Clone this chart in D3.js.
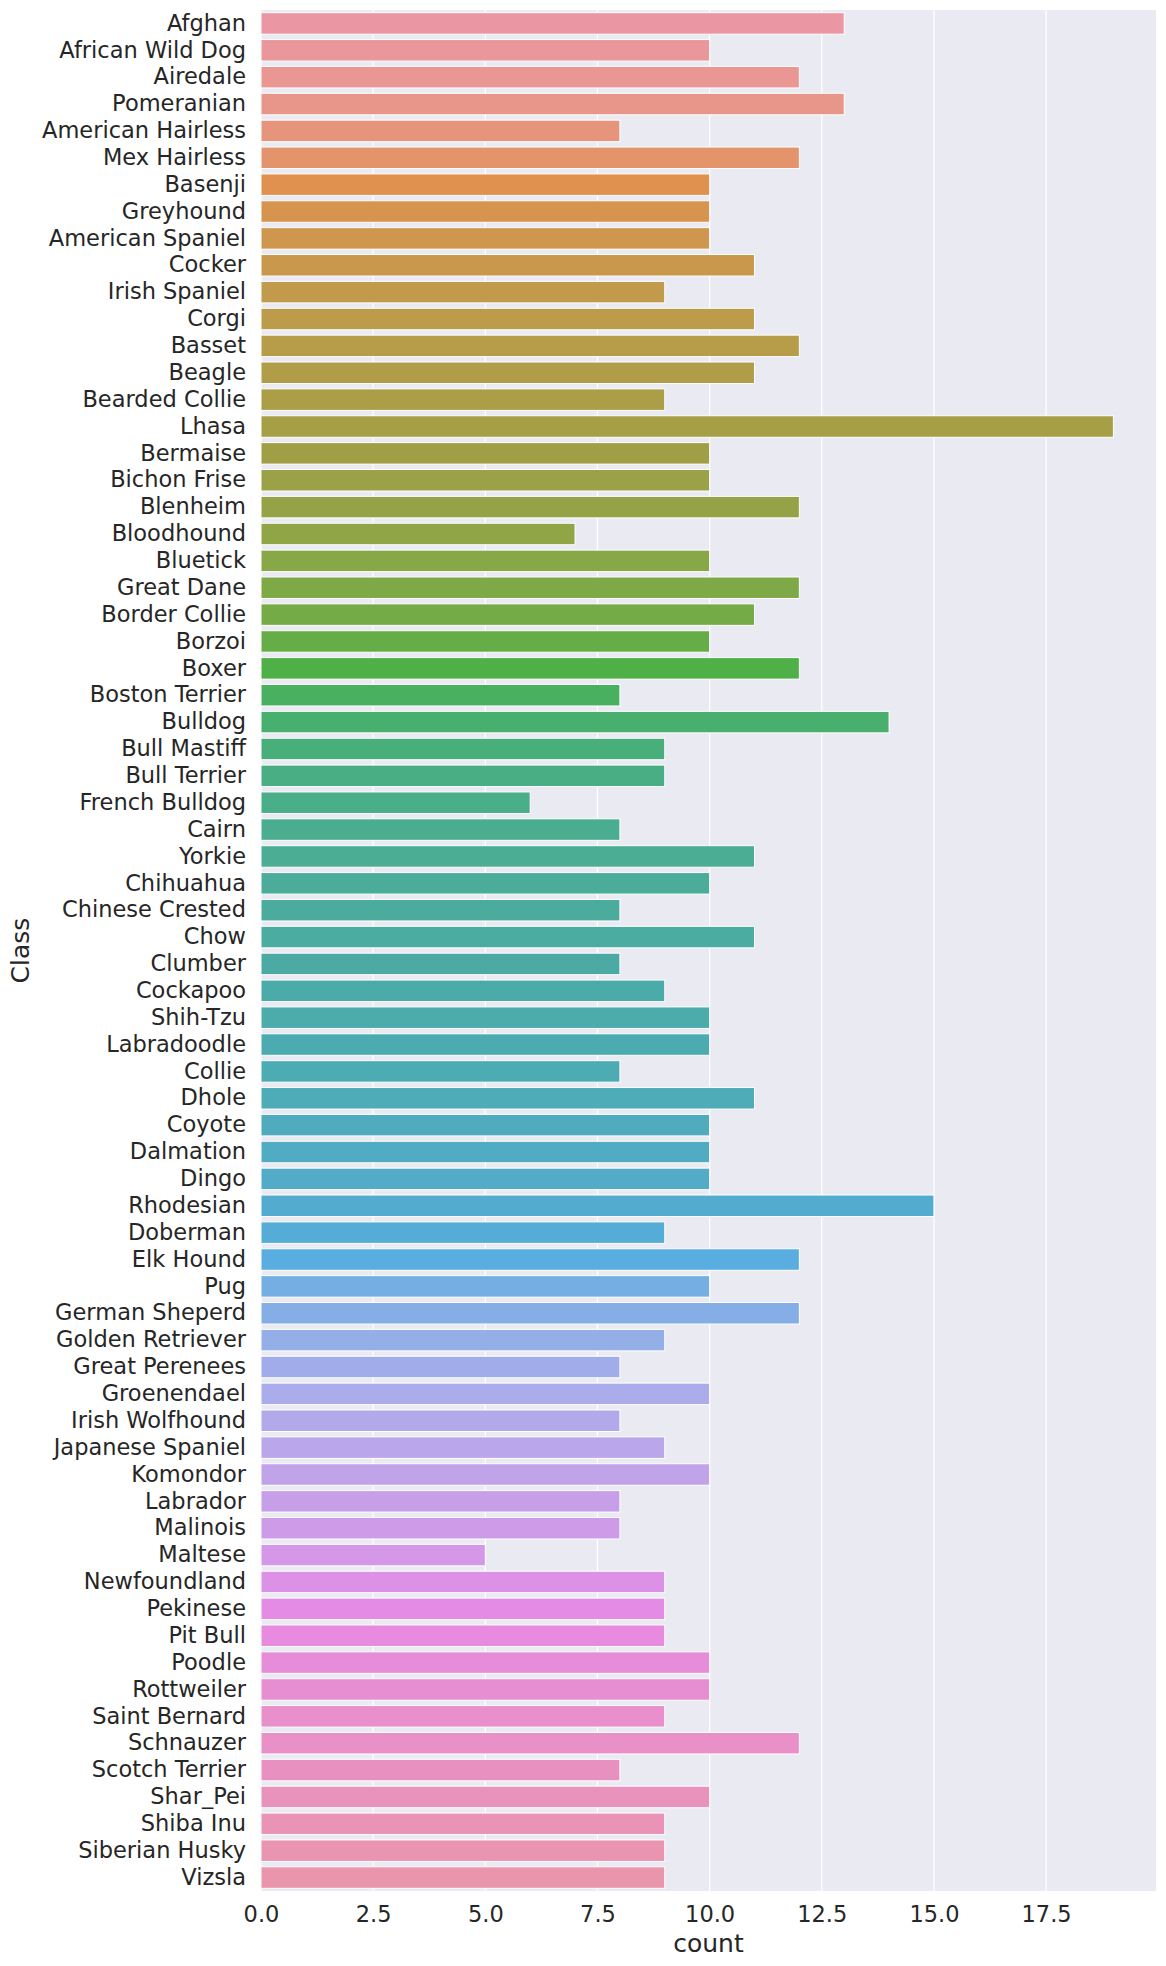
<!DOCTYPE html>
<html>
<head>
<meta charset="utf-8">
<script src="https://cdn.jsdelivr.net/npm/d3@7"></script>
<style>
  html, body { margin: 0; padding: 0; background: #fff; }
  svg { display: block; font-family: "DejaVu Sans", sans-serif; }
</style>
</head>
<body>
<svg id="chart" width="1166" height="1966"></svg>
<script>
const categories = ["Afghan","African Wild Dog","Airedale","Pomeranian","American Hairless","Mex Hairless","Basenji","Greyhound","American Spaniel","Cocker","Irish Spaniel","Corgi","Basset","Beagle","Bearded Collie","Lhasa","Bermaise","Bichon Frise","Blenheim","Bloodhound","Bluetick","Great Dane","Border Collie","Borzoi","Boxer","Boston Terrier","Bulldog","Bull Mastiff","Bull Terrier","French Bulldog","Cairn","Yorkie","Chihuahua","Chinese Crested","Chow","Clumber","Cockapoo","Shih-Tzu","Labradoodle","Collie","Dhole","Coyote","Dalmation","Dingo","Rhodesian","Doberman","Elk Hound","Pug","German Sheperd","Golden Retriever","Great Perenees","Groenendael","Irish Wolfhound","Japanese Spaniel","Komondor","Labrador","Malinois","Maltese","Newfoundland","Pekinese","Pit Bull","Poodle","Rottweiler","Saint Bernard","Schnauzer","Scotch Terrier","Shar_Pei","Shiba Inu","Siberian Husky","Vizsla"];
const counts = [13,10,12,13,8,12,10,10,10,11,9,11,12,11,9,19,10,10,12,7,10,12,11,10,12,8,14,9,9,6,8,11,10,8,11,8,9,10,10,8,11,10,10,10,15,9,12,10,12,9,8,10,8,9,10,8,8,5,9,9,9,10,10,9,12,8,10,9,9,9];
const xTicks = [0, 2.5, 5, 7.5, 10, 12.5, 15, 17.5];
const xTickLabels = ["0.0","2.5","5.0","7.5","10.0","12.5","15.0","17.5"];
const xLabel = "count";
const yLabel = "Class";

// --- seaborn-like husl palette ---
const M = [[3.2406,-1.5372,-0.4986],[-0.9689,1.8758,0.0415],[0.0557,-0.2040,1.0570]];
const refU = 0.19784, refV = 0.46834, labE = 0.008856, labK = 903.3;
function maxChroma(L, H) {
  const hr = H * Math.PI / 180, sinH = Math.sin(hr), cosH = Math.cos(hr);
  const sub1 = Math.pow(L + 16, 3) / 1560896.0;
  const sub2 = sub1 > 0.008856 ? sub1 : L / 903.3;
  let res = Infinity;
  for (const [m1, m2, m3] of M) {
    const top = (0.99915*m1 + 1.05122*m2 + 1.14460*m3) * sub2;
    const rb = 0.86330*m3 - 0.17266*m2;
    const lb = 0.12949*m3 - 0.38848*m1;
    const bottom = (rb*sinH + lb*cosH) * sub2;
    for (const t of [0, 1]) {
      const C = L * (top - 1.05122*t) / (bottom + 0.17266*sinH*t);
      if (C > 0 && C < res) res = C;
    }
  }
  return res;
}
function fInv(t) { const t3 = t*t*t; return t3 > labE ? t3 : (116*t - 16) / labK; }
function fromLinear(c) { return c <= 0.0031308 ? 12.92*c : 1.055*Math.pow(c, 1/2.4) - 0.055; }
function huslToRgb(H, S, L) {
  const C = maxChroma(L, H) / 100 * S;
  const hr = H * Math.PI / 180;
  const U = Math.cos(hr)*C, V = Math.sin(hr)*C;
  const Y = fInv((L + 16) / 116);
  const vU = U / (13*L) + refU, vV = V / (13*L) + refV;
  const X = 0 - (9*Y*vU) / ((vU - 4)*vV - vU*vV);
  const Z = (9*Y - 15*vV*Y - vV*X) / (3*vV);
  return M.map(r => Math.min(1, Math.max(0, fromLinear(r[0]*X + r[1]*Y + r[2]*Z))));
}
function huslPalette(n) {
  const out = [];
  for (let i = 0; i < n; i++) {
    let h = (i / n + 0.01) % 1;
    const rgb = huslToRgb(h * 359, 0.9 * 99, 0.7 * 99);
    const c = d3.hsl(d3.rgb(rgb[0]*255, rgb[1]*255, rgb[2]*255));
    c.s *= 0.75;
    out.push(c.formatHex());
  }
  return out;
}
const palette = huslPalette(categories.length);

// --- layout ---
const margin = {left: 261, right: 10, top: 10, bottom: 75};
const W = 1166, H = 1966;
const plotW = W - margin.left - margin.right;
const plotH = H - margin.top - margin.bottom;
const svg = d3.select("#chart");
const g = svg.append("g").attr("transform", `translate(${margin.left},${margin.top})`);

const x = d3.scaleLinear().domain([0, d3.max(counts) * 1.05]).range([0, plotW]);
const y = d3.scaleBand().domain(categories).range([0, plotH]).paddingInner(0.2).paddingOuter(0.1);
const color = d3.scaleOrdinal().domain(categories).range(palette);

g.append("rect").attr("width", plotW).attr("height", plotH).attr("fill", "#EAEAF2");

g.selectAll("line.grid").data(xTicks).join("line")
  .attr("class", "grid")
  .attr("x1", d => x(d)).attr("x2", d => x(d))
  .attr("y1", 0).attr("y2", plotH)
  .attr("stroke", "#fff").attr("stroke-width", 1.3);

g.selectAll("rect.bar").data(categories).join("rect")
  .attr("class", "bar")
  .attr("x", x(0))
  .attr("y", d => y(d))
  .attr("width", (d, i) => x(counts[i]) - x(0))
  .attr("height", y.bandwidth())
  .attr("fill", d => color(d))
  .attr("stroke", "#fff").attr("stroke-width", 1);

// x axis
const xAxis = g.append("g").attr("transform", `translate(0,${plotH})`)
  .call(d3.axisBottom(x).tickValues(xTicks).tickFormat((d, i) => xTickLabels[i]).tickSize(0).tickPadding(15));
xAxis.select(".domain").remove();
xAxis.selectAll("text").attr("font-size", "22.5px").attr("fill", "#262626").attr("font-family", "DejaVu Sans");

// y axis
const yAxis = g.append("g")
  .call(d3.axisLeft(y).tickSize(0).tickPadding(15));
yAxis.select(".domain").remove();
yAxis.selectAll("text").attr("font-size", "22.5px").attr("fill", "#262626").attr("font-family", "DejaVu Sans");

svg.append("text")
  .attr("x", margin.left + plotW / 2).attr("y", 1952)
  .attr("text-anchor", "middle").attr("font-size", "25px").attr("fill", "#262626")
  .text(xLabel);

svg.append("text")
  .attr("transform", `translate(29,${margin.top + plotH / 2}) rotate(-90)`)
  .attr("text-anchor", "middle").attr("font-size", "25px").attr("fill", "#262626")
  .text(yLabel);
</script>
</body>
</html>
